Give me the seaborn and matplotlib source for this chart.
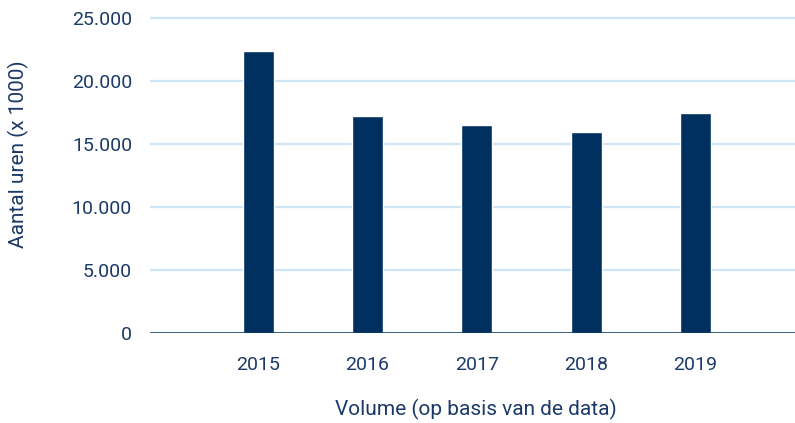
import matplotlib
matplotlib.use('Agg')
import matplotlib.pyplot as plt
import seaborn as sns

# data
years = ['2015', '2016', '2017', '2018', '2019']
hours = [22430, 17260, 16530, 15970, 17480]

bar_color = '#00305f'
text_color = '#1c3a68'
grid_color = '#cde5f6'

sns.set_style('white')
plt.rcParams['font.family'] = ['Roboto', 'DejaVu Sans']

fig = plt.figure(figsize=(7.95, 4.23), dpi=100)
ax = fig.add_axes([0.1887, 0.2135, 0.8113, 0.7522])

sns.barplot(x=years, y=hours, color=bar_color, width=0.284, saturation=1, ax=ax, zorder=3)

ax.set_xlim(-0.99, 4.91)
ax.set_ylim(0, 25300)
ax.set_yticks([0, 5000, 10000, 15000, 20000, 25000])
ax.set_yticklabels(['0', '5.000', '10.000', '15.000', '20.000', '25.000'])

for v in [5000, 10000, 15000, 20000, 25000]:
    ax.axhline(v, color=grid_color, lw=1.6, zorder=1)
ax.axhline(0, color=bar_color, lw=1.8, zorder=4)

for s in ax.spines.values():
    s.set_visible(False)

ax.tick_params(axis='y', length=0, pad=13, labelsize=14, labelcolor=text_color)
ax.tick_params(axis='x', length=0, pad=17, labelsize=14, labelcolor=text_color)

ax.set_xlabel('')
ax.set_ylabel('')
fig.text(0.0226, 0.636, 'Aantal uren (x 1000)', rotation=90, ha='center', va='center',
         fontsize=15, color=text_color)
fig.text(0.599, 0.031, 'Volume (op basis van de data)', ha='center', va='center',
         fontsize=15, color=text_color)

plt.savefig('out.png', dpi=100)
